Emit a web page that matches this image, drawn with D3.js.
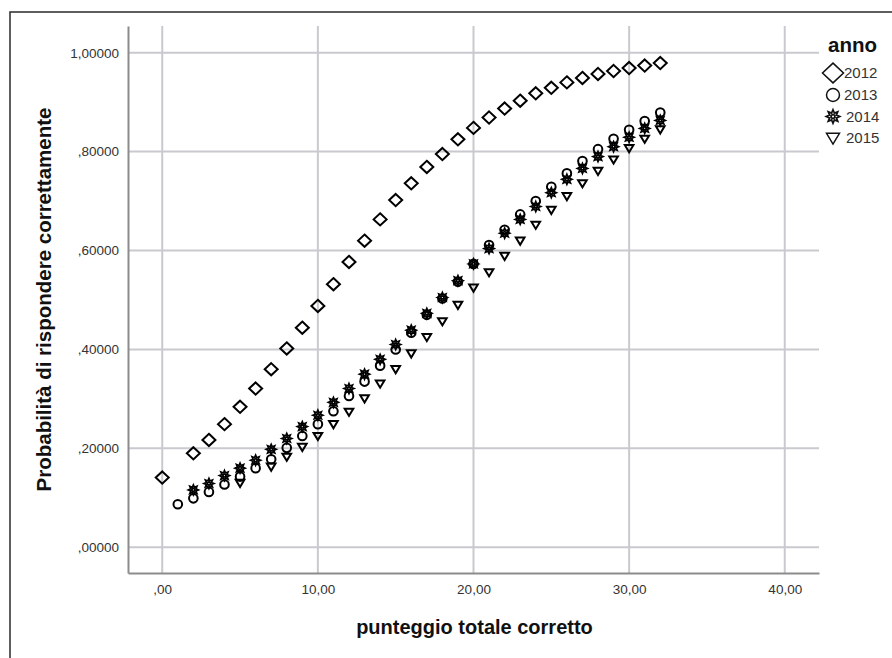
<!DOCTYPE html>
<html>
<head>
<meta charset="utf-8">
<script src="https://cdn.jsdelivr.net/npm/d3@7"></script>
<style>
  html, body { margin: 0; padding: 0; background: #fff; }
  svg { display: block; font-family: "Liberation Sans", Arial, sans-serif; }
</style>
</head>
<body>
<svg id="chart" width="892" height="658"></svg>
<script>
// punteggio totale corretto (x) and probability per anno
const x2012 = [0, 2, 3, 4, 5, 6, 7, 8, 9, 10, 11, 12, 13, 14, 15, 16, 17, 18, 19, 20, 21, 22, 23, 24, 25, 26, 27, 28, 29, 30, 31, 32];
const y2012 = [0.141, 0.190, 0.217, 0.249, 0.284, 0.321, 0.360, 0.402, 0.444, 0.488, 0.532, 0.577, 0.620, 0.663, 0.702, 0.736, 0.769, 0.795, 0.825, 0.848, 0.869, 0.887, 0.903, 0.918, 0.929, 0.940, 0.949, 0.957, 0.963, 0.969, 0.974, 0.979];

const x2013 = [1, 2, 3, 4, 5, 6, 7, 8, 9, 10, 11, 12, 13, 14, 15, 16, 17, 18, 19, 20, 21, 22, 23, 24, 25, 26, 27, 28, 29, 30, 31, 32];
const y2013 = [0.087, 0.099, 0.112, 0.127, 0.143, 0.160, 0.178, 0.201, 0.225, 0.249, 0.275, 0.306, 0.335, 0.367, 0.400, 0.434, 0.470, 0.503, 0.537, 0.573, 0.611, 0.642, 0.673, 0.700, 0.729, 0.756, 0.781, 0.805, 0.826, 0.844, 0.862, 0.879];

const x2014 = [2, 3, 4, 5, 6, 7, 8, 9, 10, 11, 12, 13, 14, 15, 16, 17, 18, 19, 20, 21, 22, 23, 24, 25, 26, 27, 28, 29, 30, 31, 32];
const y2014 = [0.116, 0.129, 0.145, 0.160, 0.176, 0.198, 0.220, 0.244, 0.267, 0.293, 0.321, 0.350, 0.380, 0.410, 0.439, 0.473, 0.505, 0.539, 0.573, 0.604, 0.635, 0.663, 0.689, 0.717, 0.744, 0.766, 0.790, 0.810, 0.829, 0.847, 0.863];

const x2015 = [5, 7, 8, 9, 10, 11, 12, 13, 14, 15, 16, 17, 18, 19, 20, 21, 22, 23, 24, 25, 26, 27, 28, 29, 30, 31, 32];
const y2015 = [0.130, 0.163, 0.183, 0.203, 0.225, 0.249, 0.274, 0.301, 0.331, 0.360, 0.392, 0.425, 0.457, 0.490, 0.525, 0.556, 0.589, 0.620, 0.652, 0.682, 0.710, 0.736, 0.761, 0.784, 0.807, 0.826, 0.845];

const anni = ["2012", "2013", "2014", "2015"];
const xTicks = [0, 10, 20, 30, 40];
const yTicks = [0, 0.2, 0.4, 0.6, 0.8, 1.0];

const series = [
  { anno: anni[0], shape: "diamond", xs: x2012, ys: y2012 },
  { anno: anni[1], shape: "circle", xs: x2013, ys: y2013 },
  { anno: anni[2], shape: "star", xs: x2014, ys: y2014 },
  { anno: anni[3], shape: "triangle", xs: x2015, ys: y2015 }
];

const svg = d3.select("#chart");
const plotL = 128, plotR = 819, plotT = 26, plotB = 573;

const x = d3.scaleLinear().domain([-2.2, 42.2]).range([plotL, plotR]);
const y = d3.scaleLinear().domain([-0.052, 1.054]).range([plotB, plotT]);

// outer frame (only top and left edges are visible)
svg.append("path")
    .attr("d", "M10,658V12H892")
    .attr("fill", "none")
    .attr("stroke", "#2a2a2a")
    .attr("stroke-width", 1.5);

// gridlines
const grid = svg.append("g").attr("class", "grid")
    .attr("stroke", "#c9cacf")
    .attr("stroke-width", 2);
grid.selectAll("line.v")
    .data(xTicks)
    .enter().append("line")
    .attr("x1", d => x(d)).attr("x2", d => x(d))
    .attr("y1", plotT).attr("y2", plotB);
grid.selectAll("line.h")
    .data(yTicks)
    .enter().append("line")
    .attr("x1", plotL).attr("x2", plotR)
    .attr("y1", d => y(d)).attr("y2", d => y(d));

// axes
const fmtY = d => d3.format(".5f")(d).replace(".", ",").replace(/^0,/, ",");
const fmtX = d => d3.format(".2f")(d).replace(".", ",").replace(/^0,/, ",");

const yAxis = svg.append("g")
    .attr("transform", "translate(" + plotL + ",0)")
    .call(d3.axisLeft(y).tickValues(yTicks).tickFormat(fmtY).tickSize(0).tickPadding(9));
const xAxis = svg.append("g")
    .attr("transform", "translate(0," + plotB + ")")
    .call(d3.axisBottom(x).tickValues(xTicks).tickFormat(fmtX).tickSize(0).tickPadding(11));

[yAxis, xAxis].forEach(function(ax) {
  ax.select(".domain").attr("stroke", "#8c8c8c").attr("stroke-width", 2);
  ax.selectAll("text")
      .attr("font-family", "'Liberation Sans', Arial, sans-serif")
      .attr("font-size", 13.5)
      .attr("fill", "#333");
});

// axis titles
svg.append("text")
    .attr("x", (plotL + plotR) / 2 + 1)
    .attr("y", 634)
    .attr("text-anchor", "middle")
    .attr("font-size", 20)
    .attr("font-weight", "bold")
    .attr("fill", "#111")
    .text("punteggio totale corretto");

svg.append("text")
    .attr("transform", "translate(51," + ((plotT + plotB) / 2) + ") rotate(-90)")
    .attr("text-anchor", "middle")
    .attr("font-size", 20.5)
    .attr("font-weight", "bold")
    .attr("fill", "#111")
    .text("Probabilità di rispondere correttamente");

// marker shapes
function starPath(r) {
  const pts = [];
  for (let i = 0; i < 16; i++) {
    const a = Math.PI * i / 8 - Math.PI / 2;
    const rr = i % 2 === 0 ? r : r * 0.55;
    pts.push([rr * Math.cos(a), rr * Math.sin(a)]);
  }
  const c = r * 0.28;
  return "M" + pts.map(p => p[0].toFixed(2) + "," + p[1].toFixed(2)).join("L") + "Z" +
    "M" + c + ",0A" + c + "," + c + " 0 1,1 " + (-c) + ",0A" + c + "," + c + " 0 1,1 " + c + ",0Z";
}

function shapePath(shape, s) {
  if (shape === "diamond") {
    const w = s * 0.5, h = s * 0.47;
    return "M0," + (-h) + "L" + w + ",0L0," + h + "L" + (-w) + ",0Z";
  }
  if (shape === "circle") {
    const r = s * 0.36;
    return "M" + r + ",0A" + r + "," + r + " 0 1,1 " + (-r) + ",0A" + r + "," + r + " 0 1,1 " + r + ",0Z";
  }
  if (shape === "star") return starPath(s * 0.42);
  // downward triangle
  const w = s * 0.36, h1 = s * 0.26, h2 = s * 0.34;
  return "M" + (-w) + "," + (-h1) + "L" + w + "," + (-h1) + "L0," + h2 + "Z";
}

const marks = svg.append("g").attr("class", "marks");
series.forEach(function(s) {
  const pts = s.xs.map((v, i) => ({ x: v, y: s.ys[i] }));
  marks.append("g")
      .selectAll("path")
      .data(pts)
      .enter().append("path")
      .attr("transform", d => "translate(" + x(d.x) + "," + y(d.y) + ")")
      .attr("d", shapePath(s.shape, s.shape === "diamond" ? 13 : 12))
      .attr("fill", "none")
      .attr("stroke", "#000")
      .attr("stroke-width", s.shape === "star" ? 1.7 : 2);
});

// legend
const legend = svg.append("g").attr("class", "legend");
legend.append("text")
    .attr("x", 828)
    .attr("y", 52)
    .attr("font-size", 20.5)
    .attr("font-weight", "bold")
    .attr("fill", "#111")
    .text("anno");

const legY = [73, 95, 116.5, 138];
const legSize = { diamond: 21, circle: 18, star: 16, triangle: 18 };
const legItem = legend.selectAll("g.item")
    .data(series)
    .enter().append("g")
    .attr("class", "item")
    .attr("transform", (d, i) => "translate(833," + legY[i] + ")");
legItem.append("path")
    .attr("d", d => shapePath(d.shape, legSize[d.shape]))
    .attr("fill", "none")
    .attr("stroke", "#111")
    .attr("stroke-width", d => d.shape === "star" ? 1.7 : 1.5);
legItem.append("text")
    .attr("x", (d, i) => i < 2 ? 11 : 13)
    .attr("dy", "0.36em")
    .attr("font-size", 15)
    .attr("fill", "#333")
    .text(d => d.anno);
</script>
</body>
</html>
